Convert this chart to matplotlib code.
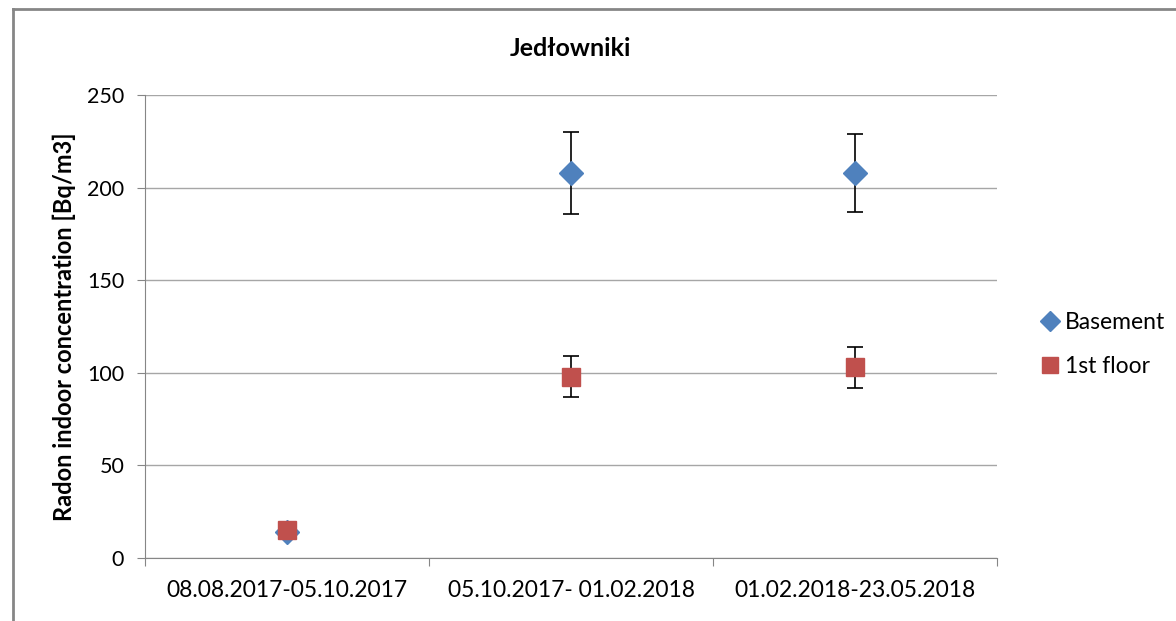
import numpy as np
import matplotlib
matplotlib.use("Agg")
from matplotlib import pyplot as plt
from matplotlib.lines import Line2D

plt.rcParams['font.family'] = ['Lato', 'DejaVu Sans']

periods = ["08.08.2017-05.10.2017", "05.10.2017- 01.02.2018", "01.02.2018-23.05.2018"]
basement = [14, 208, 208]
basement_err = [2, 22, 21]
first_floor = [15, 98, 103]
first_floor_err = [1, 11, 11]

fig = plt.figure(figsize=(11.76, 6.21), dpi=100)
ax = fig.add_axes([0.1233, 0.1014, 0.7245, 0.7456])

x = np.arange(len(periods))
ax.errorbar(x, basement, yerr=basement_err, fmt='D', color='#4F81BD', markersize=12,
            ecolor='black', elinewidth=1.2, capsize=6, capthick=1.2, label='Basement', zorder=3)
ax.errorbar(x, first_floor, yerr=first_floor_err, fmt='s', color='#C0504D', markersize=13,
            ecolor='black', elinewidth=1.2, capsize=6, capthick=1.2, label='1st floor', zorder=4)

ax.set_xlim(-0.5, len(periods) - 0.5)
ax.set_ylim(0, 250)
ax.set_yticks(np.arange(0, 251, 50))
ax.yaxis.grid(True, color='#A6A6A6', linewidth=1)
ax.set_axisbelow(True)

ax.set_xticks(np.arange(-0.5, len(periods), 1))
ax.set_xticklabels([])
ax.set_xticks(x, minor=True)
ax.set_xticklabels(periods, minor=True)
ax.tick_params(axis='x', which='major', length=6, color='#868686', direction='out')
ax.tick_params(axis='x', which='minor', length=0, pad=16, labelsize=16.5)
ax.tick_params(axis='y', length=6, color='#868686', labelsize=15.5, pad=9)

for s in ['top', 'right']:
    ax.spines[s].set_visible(False)
for s in ['left', 'bottom']:
    ax.spines[s].set_color('#868686')

ax.set_ylabel('Radon indoor concentration [Bq/m3]', fontsize=17, fontweight='bold', labelpad=8)
ax.set_title('Jedłowniki', fontsize=18, fontweight='bold', pad=28)

handles = [Line2D([], [], marker='D', color='#4F81BD', linestyle='none', markersize=10),
           Line2D([], [], marker='s', color='#C0504D', linestyle='none', markersize=12)]
fig.legend(handles, ['Basement', '1st floor'], loc='center left', bbox_to_anchor=(0.865, 0.445),
           frameon=False, fontsize=16.5, handletextpad=0.1, labelspacing=1.0, handlelength=1.1)

# outer chart border
fig.add_artist(Line2D([13 / 1176, 1], [1 - 9 / 621, 1 - 9 / 621], color='#868686', linewidth=2))
fig.add_artist(Line2D([13 / 1176, 13 / 1176], [0, 1 - 9 / 621], color='#868686', linewidth=2))

fig.savefig('out.png', dpi=100)
